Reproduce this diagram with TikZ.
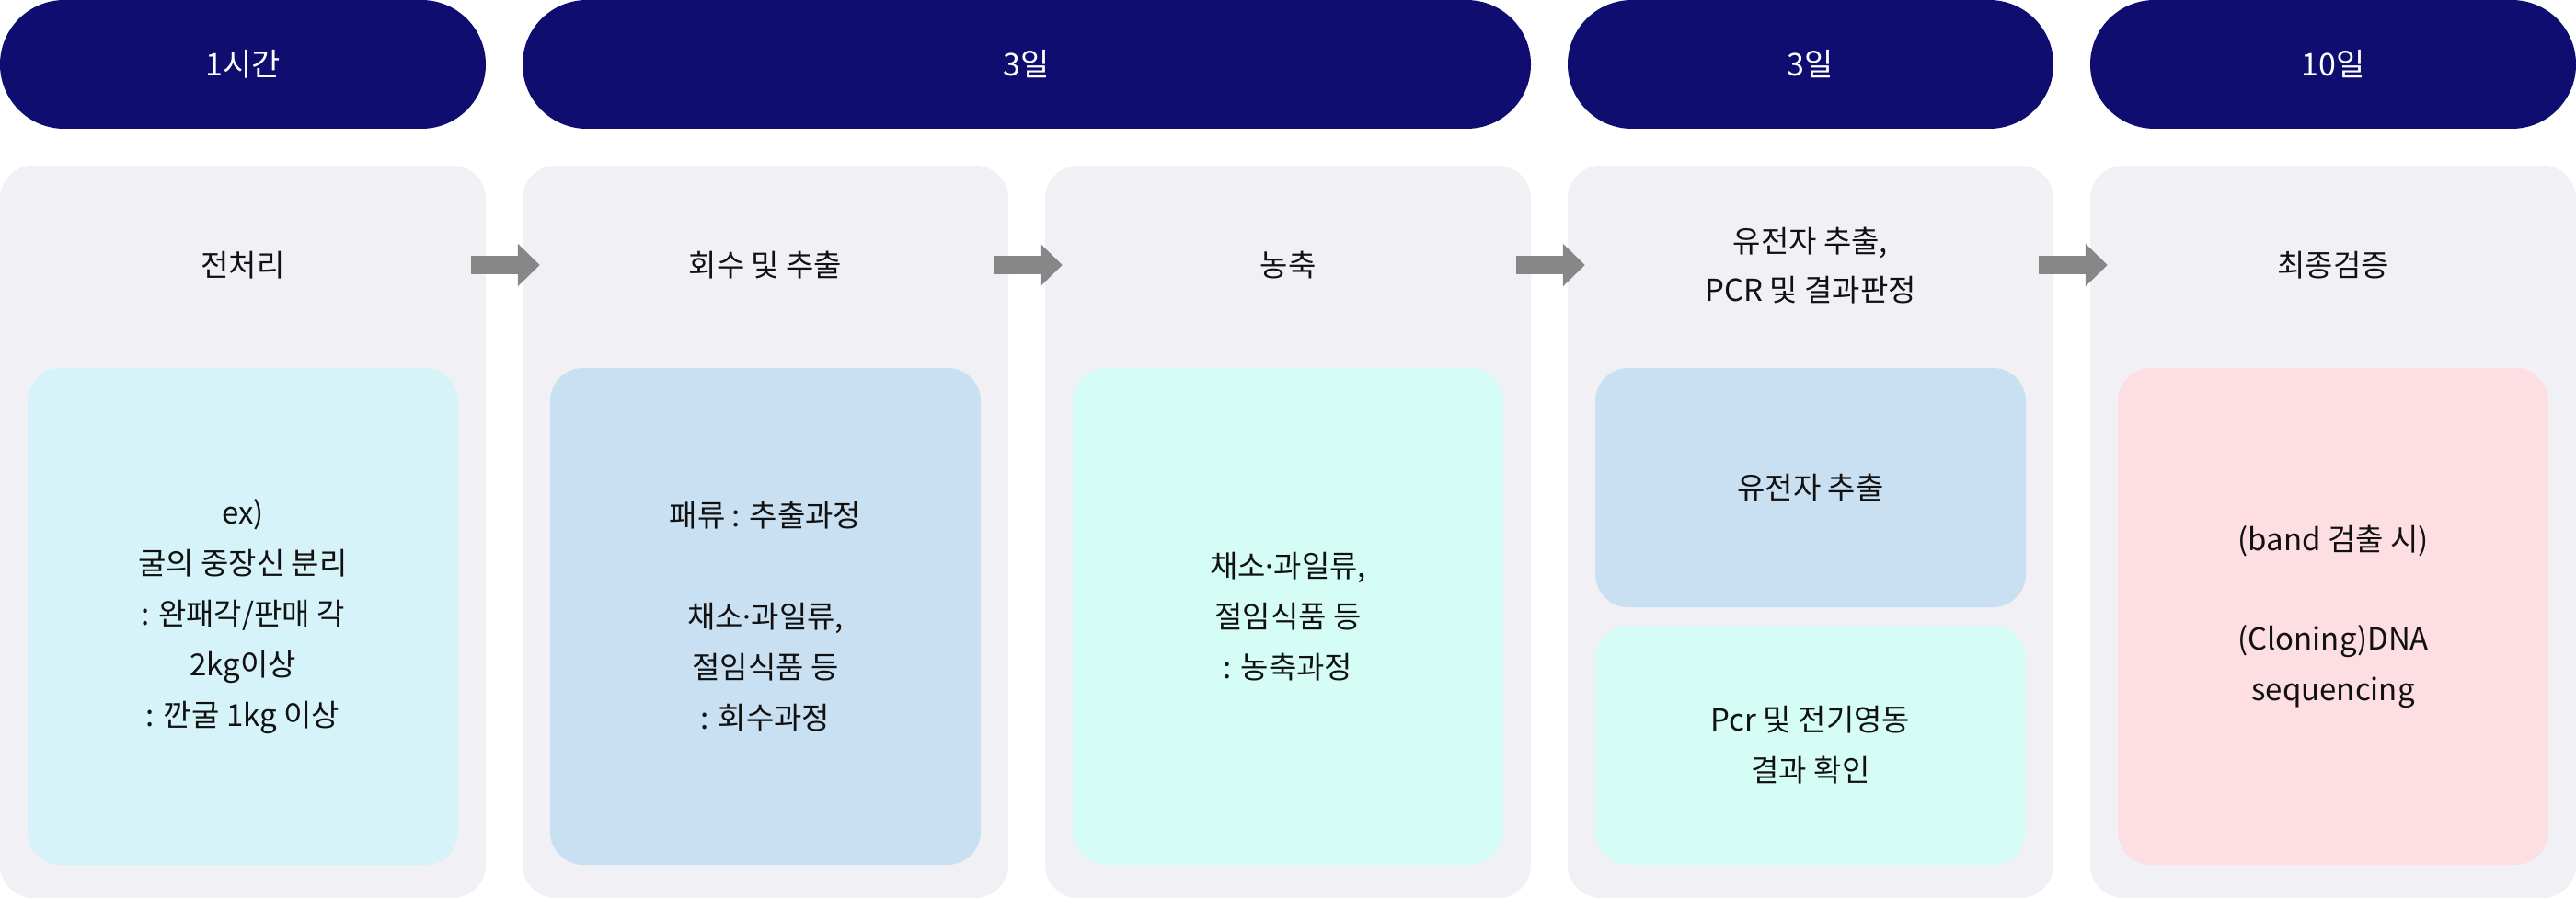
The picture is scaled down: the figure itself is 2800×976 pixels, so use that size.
\documentclass[tikz,border=0pt]{standalone}
\usepackage{fontspec}
\setmainfont{Noto Sans CJK KR}
\newfontfamily\narrowfont{Noto Sans}
\newcommand{\middot}{{\narrowfont ·}}
\usetikzlibrary{arrows.meta,calc}
\definecolor{navy}{HTML}{0F0D70}
\definecolor{panelgrey}{HTML}{F1F0F5}
\definecolor{cyanbox}{HTML}{D5F3F8}
\definecolor{bluebox}{HTML}{C9DFF2}
\definecolor{mintbox}{HTML}{D5FDF6}
\definecolor{pinkbox}{HTML}{FDDEE2}
\definecolor{arrowgrey}{HTML}{878787}
\definecolor{textblack}{HTML}{111111}
\begin{document}
\begin{tikzpicture}[x=1pt,y=-1pt,
  pill/.style={fill=navy, draw=none, text=white, rounded corners=69.9pt, minimum height=140pt, inner sep=0pt, font=\fontsize{34}{40}\selectfont},
  panel/.style={fill=panelgrey, draw=none, rounded corners=36pt, minimum width=528pt, minimum height=796pt, inner sep=0pt},
  title/.style={text=textblack, align=center, inner sep=0pt, font=\fontsize{33}{53}\selectfont},
  innerbox/.style={draw=none, rounded corners=36pt, minimum width=468pt, inner sep=0pt, text=textblack, align=center, font=\fontsize{33}{55}\selectfont},
  flow/.style={draw=arrowgrey, line width=20pt, -{Triangle[length=24pt,width=45pt]}}
]
\useasboundingbox (0,0) rectangle (2800,976);
% duration pills
\node[pill, minimum width=528pt] (d1) at (264,70) {1시간};
\node[pill, minimum width=1096pt] (d2) at (1116,70) {3일};
\node[pill, minimum width=528pt] (d3) at (1968,70) {3일};
\node[pill, minimum width=528pt] (d4) at (2536,70) {10일};
% panels
\node[panel] (p1) at (264,578) {};
\node[panel] (p2) at (832,578) {};
\node[panel] (p3) at (1400,578) {};
\node[panel] (p4) at (1968,578) {};
\node[panel] (p5) at (2536,578) {};
% titles
\node[title] (t1) at (264,288) {전처리};
\node[title] (t2) at (832,288) {회수 및 추출};
\node[title] (t3) at (1400,288) {농축};
\node[title] (t4) at (1968,289) {유전자 추출,\\PCR 및 결과판정};
\node[title] (t5) at (2536,288) {최종검증};
% inner boxes
\node[innerbox, fill=cyanbox, minimum height=540pt] (b1) at (264,670)
  {ex)\\굴의 중장신 분리\\: 완패각/판매 각\\2kg이상\\: 깐굴 1kg 이상};
\node[innerbox, fill=bluebox, minimum height=540pt] (b2) at (832,670)
  {패류 : 추출과정\\[55pt]채소\middot 과일류,\\절임식품 등\\: 회수과정};
\node[innerbox, fill=mintbox, minimum height=540pt] (b3) at (1400,670)
  {채소\middot 과일류,\\절임식품 등\\: 농축과정};
\node[innerbox, fill=bluebox, minimum height=260pt] (b4a) at (1968,530)
  {유전자 추출};
\node[innerbox, fill=mintbox, minimum height=260pt] (b4b) at (1968,810)
  {Pcr 및 전기영동\\결과 확인};
\node[innerbox, fill=pinkbox, minimum height=540pt] (b5) at (2536,670)
  {(band 검출 시)\\[53pt](Cloning)DNA\\sequencing};
% flow arrows
\draw[flow] ($(p1.east |- t1)+(-16,0)$) -- ($(p2.west |- t1)+(19,0)$);
\draw[flow] ($(p2.east |- t2)+(-16,0)$) -- ($(p3.west |- t2)+(19,0)$);
\draw[flow] ($(p3.east |- t3)+(-16,0)$) -- ($(p4.west |- t3)+(19,0)$);
\draw[flow] ($(p4.east |- t5)+(-16,0)$) -- ($(p5.west |- t5)+(19,0)$);
\end{tikzpicture}
\end{document}
